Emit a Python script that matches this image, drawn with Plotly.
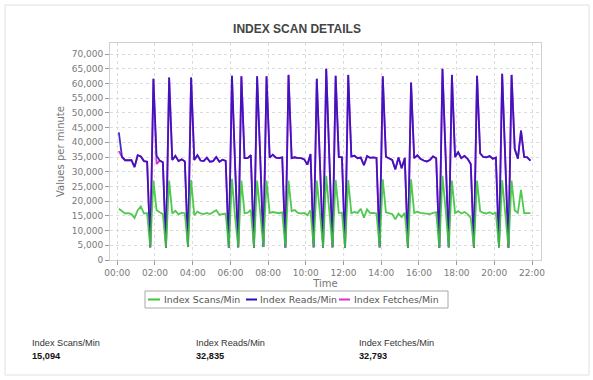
import pandas as pd
import plotly.graph_objects as go

# ---------------- data (10-minute samples starting 00:05) ----------------
start_time = "2024-01-01 00:05"
tick_labels = ["00:00", "02:00", "04:00", "06:00", "08:00", "10:00",
               "12:00", "14:00", "16:00", "18:00", "20:00", "22:00"]

index_scans = [
    17400, 16600, 15800, 15900, 15600, 14300, 16900, 18200, 15800, 15900,
    4300, 27000, 16900, 16200, 15600, 4200, 27000, 15800, 16700, 15500,
    16100, 15900, 4400, 27200, 15200, 16400, 15800, 15600, 16000, 15600,
    16300, 16900, 15400, 15700, 15800, 4200, 27600, 14500, 4300, 27000,
    15900, 16100, 17000, 4200, 27000, 16000, 4400, 27000, 16000, 16300,
    16000, 15900, 16200, 4200, 27000, 16600, 17000, 16000, 15800, 16000,
    15200, 16900, 4300, 27000, 16000, 4200, 28600, 16000, 4300, 27200,
    16000, 16100, 4200, 27200, 15900, 16300, 16000, 17400, 14400, 17200,
    15900, 16000, 15800, 4300, 27400, 16200, 16000, 15600, 13800, 15800,
    14600, 16000, 4200, 27400, 16000, 16400, 16000, 15800, 15600, 15600,
    16000, 16200, 4200, 28600, 17300, 4300, 27000, 16000, 16600, 15800,
    16300, 15600, 14300, 4200, 27000, 16600, 16000, 15800, 16200, 15600,
    16100, 4300, 27200, 16000, 4200, 27000, 16800, 16000, 23800, 15900,
    16000, 15900,
]

index_reads = [
    43400, 35000, 33900, 33800, 33900, 31600, 35600, 35200, 33600, 33400,
    4300, 61600, 35400, 33800, 33200, 4200, 62000, 34000, 35400, 33600,
    34200, 33500, 4400, 62000, 34000, 35600, 33800, 33600, 34800, 33400,
    33600, 35000, 33400, 34100, 33700, 4200, 62600, 32000, 4300, 62400,
    34600, 34600, 35600, 4200, 62400, 34800, 4400, 62400, 34800, 35800,
    34800, 34600, 34900, 4200, 62900, 34600, 34900, 34600, 34600, 34200,
    32400, 36000, 4300, 61600, 34800, 4200, 65000, 34800, 4300, 62600,
    35000, 34900, 4200, 62900, 35200, 35400, 34600, 34800, 32200, 35300,
    34700, 34900, 34700, 4300, 62400, 35100, 34600, 34000, 30800, 34800,
    31200, 34700, 4200, 60300, 34600, 35600, 34400, 33800, 33500, 34000,
    35200, 34600, 4200, 65000, 35400, 4300, 62900, 35000, 36600, 34600,
    35400, 34400, 32600, 4200, 62600, 36200, 35000, 34900, 35300, 34400,
    34800, 4300, 63300, 35000, 4200, 62900, 37800, 34400, 44000, 35000,
    34900, 33800,
]

index_fetches = [
    37000, 35000, 33900, 33800, 33900, 31600, 35600, 35200, 33600, 33400,
    4300, 61600, 32600, 33800, 33200, 4200, 62000, 34000, 35400, 33600,
    34200, 33500, 4400, 62000, 34000, 35600, 33800, 33600, 34800, 33400,
    33600, 35000, 33400, 34100, 33700, 4200, 62600, 32000, 4300, 62400,
    34600, 34600, 35600, 4200, 62400, 34800, 4400, 62400, 34800, 35800,
    34800, 34600, 34900, 4200, 62900, 34600, 34900, 34600, 34600, 34200,
    32400, 36000, 4300, 61600, 34800, 4200, 65000, 34800, 4300, 62600,
    35000, 34900, 4200, 62900, 35200, 35400, 34600, 34800, 32200, 35300,
    34700, 34900, 34700, 4300, 62400, 35100, 34600, 34000, 30800, 34800,
    31200, 34700, 4200, 60300, 34600, 35600, 34400, 33800, 33500, 34000,
    35200, 34600, 4200, 65000, 35400, 4300, 62900, 35000, 36600, 34600,
    35400, 34400, 32600, 4200, 62600, 36200, 35000, 34900, 35300, 34400,
    34800, 4300, 63300, 35000, 4200, 62900, 37800, 34400, 44000, 35000,
    34900, 33800,
]

series_names = ["Index Scans/Min", "Index Reads/Min", "Index Fetches/Min"]
summary_values = ["15,094", "32,835", "32,793"]

times = pd.date_range(start_time, periods=len(index_reads), freq="10min")

# ---------------- styling ----------------
C_SCANS = "#3ec43e"
C_READS = "#2a10bc"
C_FETCH = "#dc2fd2"
TICK_FONT = dict(family="DejaVu Sans", size=9, color="#7a7a7a")

# plot-area geometry (pixels) for converting overlay positions
L, R, T, B, W, H = 110, 52, 43, 120, 593, 380
PW, PH = W - L - R, H - T - B


def px(x):
    return (x - L) / PW


def py(y):
    return (H - B - y) / PH


fig = go.Figure()
fig.add_trace(go.Scatter(x=times, y=index_fetches, mode="lines", name=series_names[2],
                         line=dict(color=C_FETCH, width=1.8)))
fig.add_trace(go.Scatter(x=times, y=index_reads, mode="lines", name=series_names[1],
                         line=dict(color=C_READS, width=1.8), opacity=0.88))
fig.add_trace(go.Scatter(x=times, y=index_scans, mode="lines", name=series_names[0],
                         line=dict(color=C_SCANS, width=1.8), opacity=0.9))

tickvals = pd.date_range("2024-01-01 00:00", periods=len(tick_labels), freq="2h")

fig.update_layout(
    width=W, height=H,
    margin=dict(l=L, r=R, t=T, b=B, pad=0),
    paper_bgcolor="white", plot_bgcolor="white",
    showlegend=False,
    title=dict(text="<b>INDEX SCAN DETAILS</b>", x=297 / W, xanchor="center",
               y=1 - 29 / H, yanchor="middle",
               font=dict(family="Liberation Sans, Arial", size=12, color="#444444")),
    xaxis=dict(
        type="date",
        range=["2023-12-31 23:36:48", "2024-01-01 22:28:36"],
        tickvals=tickvals, ticktext=tick_labels,
        ticks="outside", ticklen=4, tickcolor="#999999",
        showgrid=True, gridcolor="#dcdcdc", griddash="dot", gridwidth=1,
        showline=True, linecolor="#d0d0d0", mirror=True, zeroline=False,
        tickfont=TICK_FONT,
        title=dict(text="Time", standoff=3,
                   font=dict(family="DejaVu Sans", size=10, color="#777777")),
    ),
    yaxis=dict(
        range=[0, 73740], dtick=5000, tick0=0, tickformat=",d",
        ticks="outside", ticklen=4, tickcolor="#999999",
        showgrid=True, gridcolor="#dcdcdc", griddash="dot", gridwidth=1,
        showline=True, linecolor="#d0d0d0", mirror=True, zeroline=False,
        tickfont=TICK_FONT,
        title=dict(text="Values per minute", standoff=5,
                   font=dict(family="DejaVu Sans", size=10, color="#777777")),
    ),
)

shapes = []
# card border
shapes.append(dict(type="rect", xref="paper", yref="paper",
                   x0=px(5), x1=px(589), y0=py(375), y1=py(5),
                   line=dict(color="#e0e0e0", width=1), layer="below"))
# custom legend box
shapes.append(dict(type="rect", xref="paper", yref="paper",
                   x0=px(145), x1=px(448), y0=py(308), y1=py(291),
                   line=dict(color="#a8a8a8", width=1)))
legend_items = [(148, 160, 163, C_SCANS), (246, 257, 259, C_READS), (339, 350, 353, C_FETCH)]
annotations = []
for (lx0, lx1, tx, col), name in zip(legend_items, series_names):
    shapes.append(dict(type="line", xref="paper", yref="paper",
                       x0=px(lx0), x1=px(lx1), y0=py(299.5), y1=py(299.5),
                       line=dict(color=col, width=2)))
    annotations.append(dict(xref="paper", yref="paper", x=px(tx), y=py(299.5),
                            xanchor="left", yanchor="middle", showarrow=False,
                            text=name, borderpad=0,
                            font=dict(family="DejaVu Sans", size=9.4, color="#555555")))

# summary block
for sx, name, val in zip([31, 195, 358], series_names, summary_values):
    annotations.append(dict(xref="paper", yref="paper", x=px(sx), y=py(343),
                            xanchor="left", yanchor="middle", showarrow=False,
                            text=name, borderpad=0,
                            font=dict(family="Liberation Sans Narrow, Liberation Sans, Arial",
                                      size=9.2, color="#333333")))
    annotations.append(dict(xref="paper", yref="paper", x=px(sx), y=py(356),
                            xanchor="left", yanchor="middle", showarrow=False,
                            text="<b>" + val + "</b>", borderpad=0,
                            font=dict(family="Liberation Sans Narrow, Liberation Sans, Arial",
                                      size=9.2, color="#111111")))

fig.update_layout(shapes=shapes, annotations=annotations)
fig.write_html("out.html", config={"displayModeBar": False},
               post_script="document.body.style.margin='0px';document.body.style.overflow='hidden';")
